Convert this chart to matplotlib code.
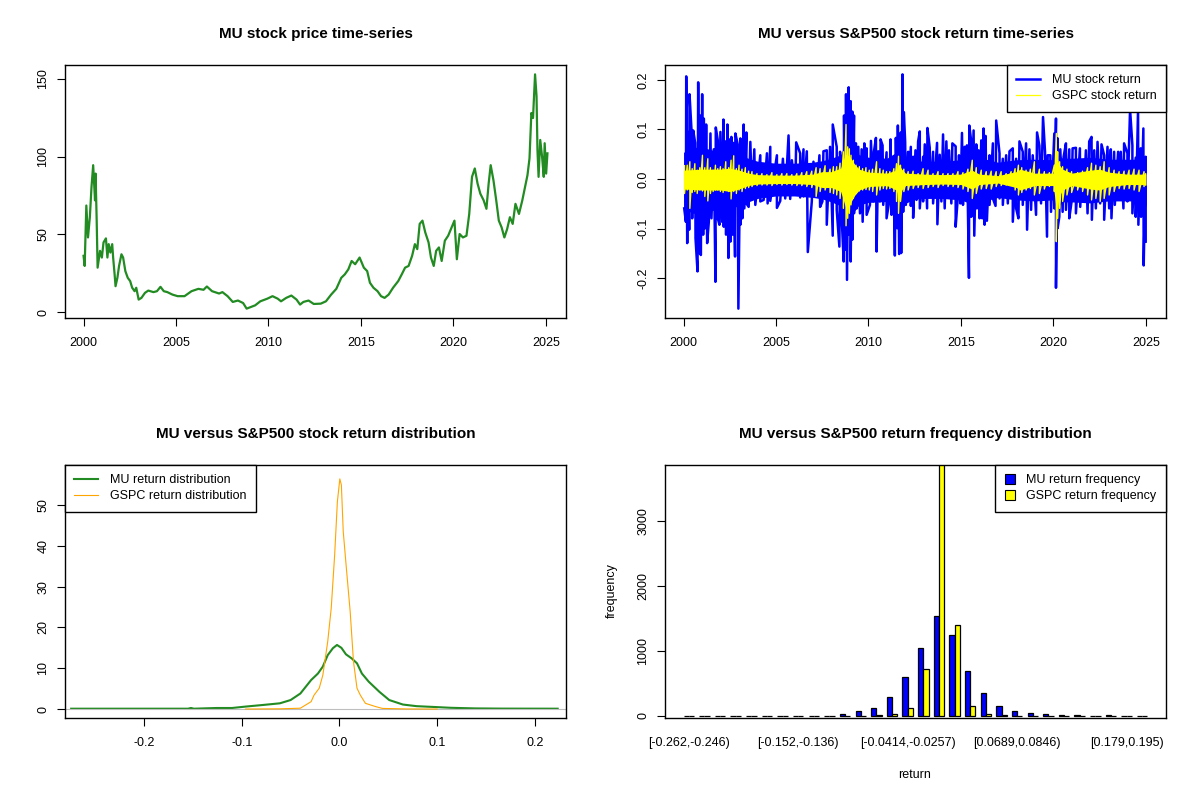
import numpy as np
import matplotlib
matplotlib.use("Agg")
import matplotlib.pyplot as plt
from matplotlib.patches import Patch
from matplotlib.lines import Line2D

plt.rcParams['font.family'] = ['Liberation Sans', 'DejaVu Sans']

# ---------------- data ----------------
# MU price (decimal years, USD)
price_years = [2000.00, 2000.06, 2000.15, 2000.24, 2000.34, 2000.43, 2000.52, 2000.62, 2000.65, 2000.71,
               2000.76, 2000.89, 2000.99, 2001.08, 2001.21, 2001.29, 2001.36, 2001.45, 2001.55, 2001.60,
               2001.68, 2001.73, 2001.83, 2001.92, 2002.05, 2002.14, 2002.26, 2002.39, 2002.52, 2002.63,
               2002.76, 2002.85, 2002.98, 2003.13, 2003.32, 2003.50, 2003.78, 2003.97, 2004.16, 2004.34,
               2004.53, 2004.81, 2005.09, 2005.46, 2005.84, 2006.21, 2006.49, 2006.67, 2006.95, 2007.33,
               2007.51, 2007.79, 2008.07, 2008.35, 2008.63, 2008.82, 2009.00, 2009.28, 2009.56, 2009.94,
               2010.22, 2010.50, 2010.68, 2010.96, 2011.24, 2011.52, 2011.71, 2011.89, 2012.17, 2012.45,
               2012.83, 2013.11, 2013.39, 2013.67, 2013.94, 2014.13, 2014.32, 2014.50, 2014.69, 2014.93,
               2015.16, 2015.34, 2015.49, 2015.68, 2015.90, 2016.09, 2016.28, 2016.50, 2016.74, 2017.02,
               2017.21, 2017.39, 2017.58, 2017.77, 2017.92, 2018.05, 2018.18, 2018.33, 2018.48, 2018.66,
               2018.79, 2018.94, 2019.07, 2019.22, 2019.37, 2019.54, 2019.72, 2019.91, 2020.06, 2020.19,
               2020.34, 2020.52, 2020.71, 2020.86, 2021.01, 2021.16, 2021.31, 2021.46, 2021.64, 2021.79,
               2021.91, 2022.02, 2022.17, 2022.32, 2022.46, 2022.61, 2022.76, 2022.91, 2023.06, 2023.21,
               2023.36, 2023.55, 2023.73, 2023.88, 2024.01, 2024.12, 2024.22, 2024.31, 2024.42, 2024.50,
               2024.55, 2024.61, 2024.70, 2024.80, 2024.89, 2024.94, 2025.02, 2025.09]
price_values = [36.3, 29.8, 68.6, 48.1, 61.1, 80.5, 94.5, 71.9, 89.1, 58.9,
                28.7, 39.5, 35.2, 44.9, 47.5, 35.2, 43.8, 38.4, 43.8, 35.2,
                24.4, 16.8, 22.2, 29.8, 37.3, 35.2, 26.5, 22.2, 20.1, 15.8,
                13.6, 15.8, 8.2, 9.3, 12.5, 14.0, 13.0, 13.6, 16.4, 13.6,
                13.0, 11.4, 10.4, 10.4, 13.6, 15.1, 14.5, 16.6, 13.6, 12.1,
                13.0, 10.4, 6.7, 7.6, 6.0, 2.4, 3.2, 4.5, 7.1, 8.8,
                10.4, 8.8, 7.1, 9.3, 10.8, 8.2, 5.0, 6.7, 7.6, 5.4,
                5.6, 7.1, 11.4, 15.1, 22.2, 24.4, 27.6, 33.0, 30.9, 35.2,
                28.7, 26.5, 19.0, 15.8, 13.6, 10.4, 9.3, 11.4, 15.8, 20.1,
                24.4, 28.7, 29.8, 36.3, 43.8, 40.6, 56.8, 58.9, 51.4, 44.9,
                35.2, 29.8, 39.5, 41.7, 33.0, 46.0, 49.2, 54.6, 58.9, 34.1,
                50.3, 48.1, 49.2, 63.2, 87.0, 92.4, 82.7, 76.2, 71.9, 66.5,
                82.7, 94.5, 84.8, 71.9, 58.9, 54.6, 48.1, 53.5, 61.1, 56.8,
                69.7, 63.2, 71.9, 80.5, 88.1, 98.9, 128.0, 124.8, 152.8, 138.8,
                104.3, 87.0, 110.7, 99.9, 87.0, 108.6, 89.1, 102.1]

# MU daily returns: upward swings (years since 2000, return)
mu_up_t = [0.144, 0.233, 0.323, 0.431, 0.521, 0.629, 0.791, 0.898, 1.006, 1.096, 1.222, 1.455, 1.635, 1.743,
           1.851, 1.994, 2.156, 2.264, 2.372, 2.498, 2.588, 2.677, 2.803, 2.929, 3.073, 3.162, 3.252, 3.396,
           3.612, 3.827, 4.151, 4.510, 4.690, 5.049, 5.373, 5.678, 5.858, 6.092, 6.307, 6.487, 6.666, 7.026,
           7.349, 7.565, 7.745, 7.924,
           8.069, 8.284, 8.464, 8.680, 8.788, 8.931, 9.039, 9.129, 9.219, 9.327, 9.452, 9.632, 9.776, 9.902,
           10.135, 10.297, 10.405, 10.531, 10.656, 10.764, 10.980, 11.195, 11.339, 11.483, 11.591, 11.681,
           11.753, 11.842, 11.914, 11.986, 12.148, 12.292, 12.417, 12.543, 12.687, 12.777, 12.956, 13.046,
           13.190, 13.316, 13.496, 13.711, 13.855, 14.035, 14.214, 14.358, 14.538, 14.717, 14.897, 15.059,
           15.203, 15.328, 15.454, 15.562, 15.688, 15.832, 15.957, 16.101, 16.227, 16.335, 16.550, 16.730,
           16.909, 17.089, 17.268, 17.448, 17.628, 17.807, 17.987, 18.167, 18.346, 18.526, 18.706, 18.885,
           19.119, 19.245, 19.442, 19.550, 19.694, 19.838, 20.053, 20.143, 20.233, 20.377, 20.557, 20.682,
           20.862, 21.042, 21.221, 21.437, 21.581, 21.761, 21.940, 22.066, 22.210, 22.390, 22.605, 22.749,
           22.929, 23.108, 23.288, 23.504, 23.647, 23.827, 24.007, 24.150, 24.276, 24.456, 24.582, 24.726,
           24.869, 24.995]
mu_up_v = [0.207, 0.095, 0.171, 0.098, 0.098, 0.073, 0.195, 0.128, 0.171, 0.122, 0.110, 0.092, 0.060, 0.104,
           0.078, 0.095, 0.120, 0.076, 0.110, 0.080, 0.085, 0.073, 0.092, 0.070, 0.082, 0.060, 0.110, 0.094,
           0.075, 0.060, 0.048, 0.052, 0.065, 0.048, 0.041, 0.088, 0.038, 0.074, 0.052, 0.060, 0.056, 0.035,
           0.048, 0.056, 0.058, 0.065,
           0.110, 0.065, 0.055, 0.128, 0.171, 0.185, 0.157, 0.136, 0.128, 0.072, 0.065, 0.060, 0.072, 0.062,
           0.077, 0.055, 0.083, 0.056, 0.080, 0.068, 0.054, 0.080, 0.041, 0.083, 0.108, 0.080,
           0.094, 0.211, 0.135, 0.075, 0.055, 0.065, 0.045, 0.058, 0.076, 0.096, 0.045, 0.070,
           0.103, 0.063, 0.055, 0.073, 0.049, 0.090, 0.076, 0.058, 0.072, 0.066, 0.048, 0.093,
           0.065, 0.068, 0.108, 0.075, 0.098, 0.070, 0.058, 0.078, 0.102, 0.087, 0.048, 0.072,
           0.118, 0.052, 0.041, 0.048, 0.056, 0.062, 0.041, 0.076, 0.055, 0.072, 0.060, 0.048,
           0.094, 0.067, 0.125, 0.055, 0.048, 0.048, 0.092, 0.122, 0.082, 0.060, 0.045, 0.072,
           0.060, 0.062, 0.063, 0.062, 0.035, 0.058, 0.076, 0.085, 0.058, 0.075, 0.070, 0.048,
           0.065, 0.060, 0.055, 0.055, 0.055, 0.072, 0.052, 0.140, 0.068, 0.043, 0.140, 0.062,
           0.102, 0.045]
# MU daily returns: downward swings
mu_dn_t = [0.036, 0.126, 0.198, 0.305, 0.467, 0.647, 0.755, 0.844, 0.934, 1.060, 1.168, 1.276, 1.366, 1.509,
           1.725, 1.851, 1.941, 2.084, 2.174, 2.300, 2.426, 2.534, 2.641, 2.785, 2.965, 3.073, 3.181, 3.288,
           3.396, 3.522, 3.702, 3.881, 4.151, 4.331, 4.546, 4.690, 5.049, 5.229, 5.499, 5.768, 6.038, 6.307,
           6.487, 6.720, 6.936, 7.206, 7.385, 7.511, 7.745, 8.068,
           8.284, 8.428, 8.554, 8.662, 8.752, 8.841, 8.931, 9.039, 9.129, 9.219, 9.363, 9.542, 9.686, 9.812,
           9.902, 10.081, 10.261, 10.441, 10.620, 10.800, 10.980, 11.124, 11.249, 11.429, 11.555, 11.663,
           11.771, 11.878, 12.022, 12.148, 12.292, 12.417, 12.597, 12.777, 12.956, 13.172, 13.316, 13.496,
           13.729, 13.945, 14.124, 14.304, 14.484, 14.717, 14.843, 14.969, 15.113, 15.292, 15.436, 15.562,
           15.724, 15.867, 16.011, 16.155, 16.281, 16.407, 16.550, 16.730, 16.874,
           17.089, 17.268, 17.538, 17.807, 17.987, 18.113, 18.346, 18.580, 18.796, 19.065, 19.335, 19.658,
           19.874, 20.053, 20.143, 20.233, 20.323, 20.503, 20.682, 20.862, 20.988, 21.221, 21.455, 21.635,
           21.850, 22.084, 22.300, 22.533, 22.749, 23.019, 23.144, 23.324, 23.558, 23.791, 24.007, 24.276,
           24.456, 24.600, 24.744, 24.887, 24.941, 24.995]
mu_dn_v = [-0.059, -0.086, -0.129, -0.102, -0.079, -0.119, -0.186, -0.149, -0.153, -0.112, -0.099, -0.129,
           -0.086, -0.079, -0.207, -0.079, -0.092, -0.086, -0.096, -0.112, -0.159, -0.126, -0.112, -0.156,
           -0.261, -0.092, -0.079, -0.059, -0.049, -0.056, -0.039, -0.052, -0.045, -0.042, -0.049, -0.044,
           -0.058, -0.044, -0.039, -0.040, -0.029, -0.037, -0.035, -0.147, -0.045, -0.029, -0.056, -0.045,
           -0.092, -0.114,
           -0.062, -0.136, -0.079, -0.166, -0.142, -0.203, -0.112, -0.166, -0.122, -0.069, -0.059, -0.069,
           -0.086, -0.045, -0.072, -0.052, -0.045, -0.146, -0.045, -0.052, -0.079, -0.045, -0.072, -0.154,
           -0.099, -0.151, -0.149, -0.066, -0.052, -0.035, -0.054, -0.078, -0.042, -0.059, -0.045, -0.059,
           -0.035, -0.049, -0.091, -0.045, -0.059, -0.035, -0.049, -0.096, -0.032, -0.049, -0.052, -0.032,
           -0.199, -0.076, -0.114, -0.059, -0.079, -0.079, -0.092, -0.084, -0.052, -0.039, -0.054,
           -0.039, -0.052, -0.049, -0.086, -0.059, -0.079, -0.052, -0.102, -0.062, -0.072, -0.049, -0.116,
           -0.066, -0.059, -0.219, -0.099, -0.076, -0.066, -0.062, -0.079, -0.045, -0.069, -0.056, -0.045,
           -0.069, -0.082, -0.059, -0.049, -0.082, -0.059, -0.079, -0.052, -0.039, -0.059, -0.045, -0.069,
           -0.076, -0.092, -0.076, -0.174, -0.069, -0.126]
# MU: extent of the dense (solid) part of the return band
mu_core_t = [0.0, 0.5, 1.0, 1.5, 2.0, 2.5, 3.0, 3.5, 4.0, 5.0, 6.0, 7.0, 7.5, 8.0, 8.5, 8.75, 9.0, 9.25,
             9.5, 10.0, 11.0, 11.5, 11.75, 12.0, 12.5, 13.0, 14.0, 15.0, 15.5, 16.0, 16.5, 17.0, 18.0, 19.0,
             20.0, 20.15, 20.3, 20.5, 21.0, 22.0, 23.0, 24.0, 25.0]
mu_core_hi = [0.054, 0.064, 0.064, 0.059, 0.054, 0.054, 0.049, 0.042, 0.036, 0.032, 0.032, 0.034, 0.037,
              0.042, 0.049, 0.074, 0.079, 0.059, 0.049, 0.044, 0.042, 0.054, 0.064, 0.046, 0.037, 0.036,
              0.036, 0.039, 0.044, 0.042, 0.039, 0.034, 0.039, 0.040, 0.039, 0.064, 0.049, 0.042, 0.042,
              0.044, 0.040, 0.040, 0.040]
mu_core_lo = [-0.059, -0.069, -0.069, -0.064, -0.059, -0.059, -0.054, -0.046, -0.039, -0.034, -0.034,
              -0.037, -0.040, -0.046, -0.054, -0.079, -0.084, -0.064, -0.052, -0.047, -0.045, -0.059,
              -0.069, -0.049, -0.040, -0.039, -0.039, -0.042, -0.049, -0.046, -0.042, -0.037, -0.042,
              -0.044, -0.042, -0.069, -0.054, -0.046, -0.046, -0.048, -0.044, -0.044, -0.044]

# GSPC daily returns: upward swings
gs_up_t = [0.054, 0.198, 0.341, 0.467, 0.611, 0.737, 0.880, 1.024, 1.150, 1.312, 1.455, 1.599, 1.725, 1.851,
           1.994, 2.138, 2.282, 2.444, 2.570, 2.713, 2.857, 3.001, 3.162, 3.342, 3.522, 3.702, 3.971, 4.241,
           4.510, 4.780, 5.049, 5.319, 5.588, 5.858, 6.128, 6.397, 6.666, 6.936, 7.170, 7.385, 7.655, 7.924,
           8.104, 8.284, 8.464, 8.644, 8.788, 8.877, 8.967, 9.057, 9.183, 9.327, 9.506, 9.686, 9.866, 10.045,
           10.225, 10.441, 10.620, 10.800, 10.980, 11.159, 11.375, 11.519, 11.627, 11.735, 11.914, 12.148,
           12.417, 12.687, 12.956, 13.226, 13.496, 13.765, 14.035, 14.304, 14.574, 14.843, 15.113, 15.382,
           15.616, 15.832, 16.101, 16.371, 16.640, 16.909, 17.178, 17.448, 17.717, 17.933, 18.113, 18.292,
           18.526, 18.760, 18.975, 19.245, 19.514, 19.784, 20.053, 20.161, 20.233, 20.341, 20.503, 20.736,
           20.988, 21.311, 21.581, 21.850, 22.066, 22.300, 22.533, 22.749, 23.019, 23.288, 23.558, 23.827,
           24.097, 24.366, 24.636, 24.905, 24.995]
gs_up_v = [0.027, 0.028, 0.035, 0.021, 0.031, 0.018, 0.023, 0.048, 0.023, 0.041, 0.023, 0.018, 0.028, 0.021,
           0.025, 0.021, 0.035, 0.023, 0.038, 0.047, 0.021, 0.028, 0.020, 0.023, 0.016, 0.015, 0.011, 0.011,
           0.009, 0.013, 0.009, 0.011, 0.011, 0.009, 0.011, 0.013, 0.015, 0.016, 0.023, 0.021, 0.027, 0.020,
           0.025, 0.025, 0.032, 0.055, 0.110, 0.065, 0.061, 0.048, 0.038, 0.028, 0.025, 0.021, 0.023, 0.018,
           0.020, 0.035, 0.021, 0.018, 0.015, 0.015, 0.021, 0.031, 0.046, 0.028, 0.020, 0.015,
           0.016, 0.011, 0.021, 0.018, 0.011, 0.015, 0.011, 0.011, 0.011, 0.015, 0.013, 0.020,
           0.038, 0.023, 0.018, 0.015, 0.016, 0.015, 0.015, 0.011, 0.015, 0.021, 0.028, 0.023,
           0.018, 0.020, 0.035, 0.020, 0.015, 0.013, 0.028, 0.092, 0.055, 0.035, 0.025, 0.020,
           0.015, 0.013, 0.016, 0.023, 0.032, 0.028, 0.025, 0.035, 0.023, 0.018, 0.015, 0.016,
           0.018, 0.020, 0.018, 0.015, 0.011]
# GSPC daily returns: downward swings
gs_dn_t = gs_up_t
gs_dn_v = [-0.029, -0.022, -0.059, -0.027, -0.025, -0.029, -0.022, -0.024, -0.035, -0.044, -0.029, -0.025,
           -0.022, -0.022, -0.025, -0.027, -0.022, -0.025, -0.040, -0.025, -0.029, -0.022, -0.025, -0.019,
           -0.017, -0.015, -0.013, -0.012, -0.012, -0.013, -0.011, -0.012, -0.011, -0.012, -0.013, -0.013,
           -0.015, -0.017, -0.035, -0.025, -0.022, -0.027,
           -0.029, -0.032, -0.039, -0.059, -0.094, -0.079, -0.069, -0.052, -0.039, -0.029, -0.024, -0.022,
           -0.021, -0.022, -0.025, -0.032, -0.022, -0.019, -0.020, -0.019, -0.025, -0.045, -0.069, -0.045,
           -0.025, -0.022, -0.019, -0.017, -0.019, -0.017, -0.015, -0.017, -0.013, -0.015, -0.015, -0.017,
           -0.020, -0.025, -0.039, -0.029, -0.020, -0.019, -0.020,
           -0.015, -0.013, -0.012, -0.013, -0.022, -0.032, -0.027, -0.022, -0.019, -0.032, -0.029, -0.020,
           -0.015, -0.025, -0.126, -0.079, -0.059, -0.045, -0.032, -0.027, -0.022, -0.025, -0.032, -0.042,
           -0.039, -0.045, -0.039, -0.032, -0.025, -0.019, -0.020, -0.019, -0.022, -0.025, -0.015, -0.012]
# GSPC: extent of the dense (solid) part of the return band
gs_core_t = [0.0, 1.0, 2.0, 2.5, 3.0, 3.5, 4.0, 5.0, 6.0, 7.0, 7.5, 8.0, 8.5, 8.75, 9.0, 9.25, 9.5, 10.0,
             11.0, 11.5, 11.65, 11.8, 12.0, 13.0, 14.0, 15.0, 15.6, 16.0, 17.0, 18.0, 18.2, 19.0, 20.0,
             20.15, 20.3, 20.5, 21.0, 22.0, 22.5, 23.0, 24.0, 25.0]
gs_core_hi = [0.018, 0.020, 0.020, 0.022, 0.018, 0.012, 0.009, 0.008, 0.008, 0.010, 0.015, 0.015, 0.022,
              0.050, 0.045, 0.030, 0.020, 0.014, 0.012, 0.018, 0.030, 0.020, 0.012, 0.010, 0.009, 0.010,
              0.018, 0.010, 0.007, 0.015, 0.020, 0.012, 0.012, 0.050, 0.030, 0.020, 0.012, 0.018, 0.020,
              0.014, 0.010, 0.010]
gs_core_lo = [-0.020, -0.022, -0.022, -0.025, -0.020, -0.013, -0.010, -0.009, -0.009, -0.011, -0.017,
              -0.017, -0.025, -0.055, -0.050, -0.033, -0.022, -0.015, -0.013, -0.022, -0.035, -0.022,
              -0.013, -0.011, -0.010, -0.011, -0.020, -0.011, -0.008, -0.017, -0.022, -0.013, -0.013,
              -0.060, -0.035, -0.022, -0.013, -0.020, -0.022, -0.015, -0.011, -0.011]

# Kernel density estimates
mu_dens_x = [-0.2747, -0.236, -0.201, -0.166, -0.155, -0.152, -0.149, -0.126, -0.110, -0.096, -0.078, -0.061,
             -0.050, -0.040, -0.029, -0.022, -0.017, -0.012, -0.0067, -0.0025, 0.002, 0.0067, 0.0126, 0.018,
             0.023, 0.030, 0.041, 0.051, 0.065, 0.079, 0.097, 0.114, 0.139, 0.167, 0.2235]
mu_dens_y = [0.08, 0.08, 0.08, 0.08, 0.08, 0.25, 0.08, 0.25, 0.25, 0.6, 1.0, 1.4,
             2.2, 3.8, 7.1, 8.7, 10.4, 13.2, 14.9, 15.7, 15.0, 13.4, 12.4, 11.2,
             8.7, 6.7, 4.2, 2.2, 1.1, 0.7, 0.5, 0.3, 0.15, 0.1, 0.08]
gs_dens_x = [-0.096, -0.082, -0.061, -0.040, -0.029, -0.026, -0.0207, -0.017, -0.012, -0.0084, -0.0049,
             -0.0021, 0.0004, 0.002, 0.0039, 0.0074, 0.011, 0.0144, 0.018, 0.0214, 0.0266, 0.037, 0.044,
             0.0687, 0.10]
gs_dens_y = [0.0, 0.02, 0.05, 0.2, 1.8, 3.4, 5.1, 8.3, 16.5, 24.7, 37.7, 50.8, 56.4, 54.9, 43.5, 33.7,
             23.9, 11.6, 5.1, 3.4, 1.4, 0.6, 0.15, 0.02, 0.0]

# Frequency table (30 bins, width ~0.0157, first bin [-0.262,-0.246))
mu_freq = [1, 1, 1, 6, 1, 1, 5, 5, 4, 5, 30, 82, 123, 297, 604, 1045, 1541, 1249, 696, 353,
           154, 82, 51, 31, 10, 10, 1, 10, 1, 1]
gs_freq = [0, 0, 0, 0, 0, 0, 0, 0, 1, 1, 1, 3, 15, 30, 123, 722, 3900, 1403, 159, 36,
           15, 3, 1, 1, 0, 0, 0, 0, 0, 0]
bin_label_idx = [0, 7, 14, 21, 28]
bin_labels = ["[-0.262,-0.246)", "[-0.152,-0.136)", "[-0.0414,-0.0257)", "[0.0689,0.0846)", "[0.179,0.195)"]

year_ticks = [2000, 2005, 2010, 2015, 2020, 2025]

# ---------------- drawing ----------------
W, H = 1200, 800
fig = plt.figure(figsize=(12, 8), dpi=100)
fig.patch.set_facecolor('white')

def box(l, t, r, b):
    return fig.add_axes([l / W, 1 - b / H, (r - l) / W, (b - t) / H])

def style(ax, rot_y=True):
    for s in ax.spines.values():
        s.set_linewidth(1.0)
        s.set_color('black')
    ax.tick_params(direction='out', length=5.8, width=0.8, labelsize=9, colors='black')
    ax.tick_params(axis='x', pad=8)
    ax.tick_params(axis='y', pad=5.5)
    if rot_y:
        for lab in ax.get_yticklabels():
            lab.set_rotation(90)
            lab.set_va('center')

def rpad(lo, hi, f=0.04):
    d = (hi - lo) * f
    return lo - d, hi + d

def title(ax_l, ax_r, y, text):
    fig.text((ax_l + ax_r) / 2 / W, 1 - y / H, text, ha='center', va='center',
             fontsize=11, fontweight='bold')

def rlegend(ax, handles, labels, loc, **kw):
    leg = ax.legend(handles, labels, loc=loc, borderaxespad=0, fancybox=False, framealpha=1,
                    edgecolor='black', fontsize=9, borderpad=0.75, labelspacing=0.3,
                    handletextpad=0.95, **kw)
    leg.get_frame().set_linewidth(1.0)
    leg.set_zorder(10)
    return leg

xlim_years = rpad(min(price_years), max(price_years))

# Panel 1: price
ax1 = box(65, 65, 566, 318)
ax1.plot(price_years, price_values, color='#228B22', lw=1.6)
ax1.set_xlim(*xlim_years)
ax1.set_ylim(*rpad(min(price_values), max(price_values)))
ax1.set_xticks(year_ticks)
ax1.set_yticks([0, 50, 100, 150])
style(ax1)
title(65, 566, 34, "MU stock price time-series")

# Panel 2: returns
ax2 = box(665, 65, 1166, 318)
ax2.fill_between(2000 + np.array(mu_core_t), mu_core_lo, mu_core_hi, color='#0000FF', lw=0, zorder=1)
mt = np.array(mu_up_t + mu_dn_t); mv = np.array(mu_up_v + mu_dn_v)
o = np.argsort(mt, kind='stable')
ax2.plot(2000 + mt[o], mv[o], color='#0000FF', lw=1.8, zorder=2)
ax2.fill_between(2000 + np.array(gs_core_t), gs_core_lo, gs_core_hi, color='#FFFF00', lw=0, zorder=3)
gt = np.array(gs_up_t + gs_dn_t); gv = np.array(gs_up_v + gs_dn_v)
o = np.argsort(gt, kind='stable')
ax2.plot(2000 + gt[o], gv[o], color='#FFFF00', lw=1.0, zorder=4)
ax2.set_xlim(*xlim_years)
ax2.set_ylim(*rpad(min(mu_dn_v), max(mu_up_v)))
ax2.set_xticks(year_ticks)
ax2.set_yticks([-0.2, -0.1, 0.0, 0.1, 0.2])
ax2.set_yticklabels(["-0.2", "-0.1", "0.0", "0.1", "0.2"])
style(ax2)
rlegend(ax2, [Line2D([], [], color='#0000FF', lw=1.8), Line2D([], [], color='#FFFF00', lw=0.9)],
        ["MU stock return", "GSPC stock return"], 'upper right', handlelength=1.9)
title(665, 1166, 34, "MU versus S&P500 stock return time-series")

# Panel 3: densities
ax3 = box(65, 465, 566, 718)
ax3.plot(mu_dens_x, mu_dens_y, color='#228B22', lw=1.5)
ax3.axhline(0, color='#BEBEBE', lw=0.8)
ax3.plot(gs_dens_x, gs_dens_y, color='#FFA500', lw=0.8)
ax3.set_xlim(-0.281, 0.232)
ax3.set_ylim(-2.2, 59.8)
ax3.set_xticks([-0.2, -0.1, 0.0, 0.1, 0.2])
ax3.set_xticklabels(["-0.2", "-0.1", "0.0", "0.1", "0.2"])
ax3.set_yticks([0, 10, 20, 30, 40, 50])
style(ax3)
rlegend(ax3, [Line2D([], [], color='#228B22', lw=1.5), Line2D([], [], color='#FFA500', lw=0.8)],
        ["MU return distribution", "GSPC return distribution"], 'upper left', handlelength=1.9)
title(65, 566, 434, "MU versus S&P500 stock return distribution")

# Panel 4: frequency bars (grouped)
ax4 = box(665, 465, 1166, 718)
n = len(mu_freq)
g = np.arange(n)
left_mu = 1 + 3 * g
ax4.bar(left_mu, mu_freq, width=1, align='edge', color='#0000FF', edgecolor='black', linewidth=0.9)
ax4.bar(left_mu + 1, gs_freq, width=1, align='edge', color='#FFFF00', edgecolor='black', linewidth=0.9)
ax4.set_xlim(*rpad(1, 3 * n))
ax4.set_ylim(-31, 3867)
ax4.set_xticks([2 + 3 * i for i in bin_label_idx])
ax4.set_xticklabels(bin_labels)
ax4.set_yticks([0, 1000, 2000, 3000])
style(ax4)
ax4.tick_params(axis='x', length=0, pad=14)
rlegend(ax4, [Patch(facecolor='#0000FF', edgecolor='black', lw=0.8),
              Patch(facecolor='#FFFF00', edgecolor='black', lw=0.8)],
        ["MU return frequency", "GSPC return frequency"], 'upper right',
        handlelength=0.8, handleheight=0.8)
title(665, 1166, 434, "MU versus S&P500 return frequency distribution")
fig.text(612 / W, 1 - 591 / H, "frequency", rotation=90, ha='center', va='center', fontsize=9)
fig.text(915 / W, 1 - 775 / H, "return", ha='center', va='center', fontsize=9)

fig.savefig("out.png", dpi=100, facecolor='white')
